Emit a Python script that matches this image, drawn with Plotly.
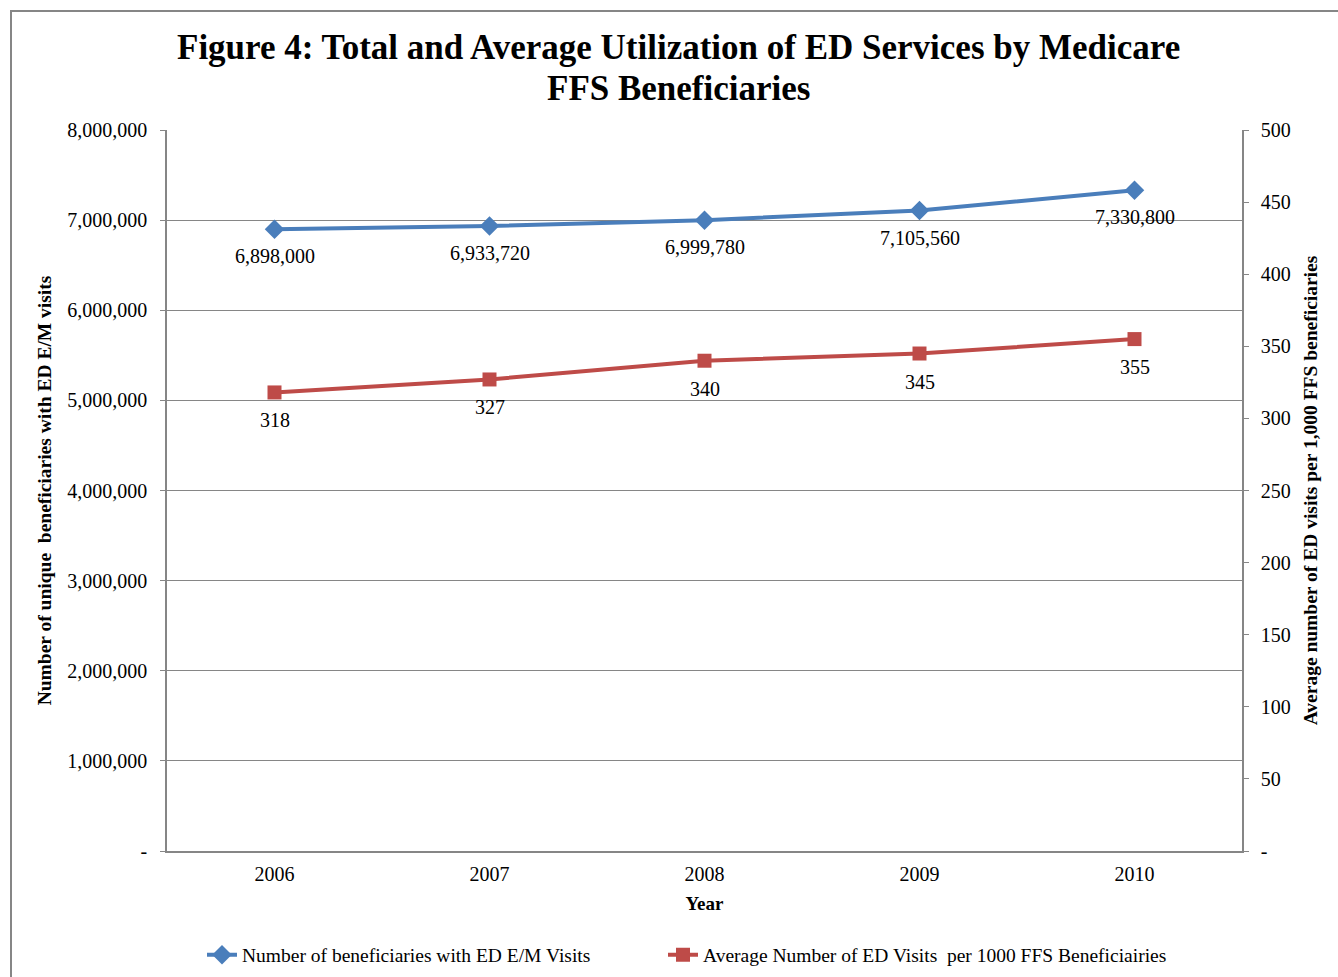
import plotly.graph_objects as go

years = ["2006", "2007", "2008", "2009", "2010"]
beneficiaries = [6898000, 6933720, 6999780, 7105560, 7330800]
avg_visits = [318, 327, 340, 345, 355]
left_ticks = [0, 1000000, 2000000, 3000000, 4000000, 5000000, 6000000, 7000000, 8000000]
left_ticktext = ["-", "1,000,000", "2,000,000", "3,000,000", "4,000,000", "5,000,000", "6,000,000", "7,000,000", "8,000,000"]
right_ticks = [0, 50, 100, 150, 200, 250, 300, 350, 400, 450, 500]
right_ticktext = ["-", "50", "100", "150", "200", "250", "300", "350", "400", "450", "500"]
title_lines = ["Figure 4: Total and Average Utilization of ED Services by Medicare", "FFS Beneficiaries"]

FONT = "Liberation Serif"
BLUE = "#4A7EBB"
RED = "#BE4B48"
GRAY = "#868686"

fig = go.Figure()
fig.add_trace(go.Scatter(
    x=years, y=beneficiaries, mode="lines+markers",
    name="Number of beneficiaries with ED E/M Visits",
    line=dict(color=BLUE, width=4),
    marker=dict(symbol="diamond", size=15, color=BLUE),
    yaxis="y"))
fig.add_trace(go.Scatter(
    x=years, y=avg_visits, mode="lines+markers",
    name="Average Number of ED Visits  per 1000 FFS Beneficiairies",
    line=dict(color=RED, width=4),
    marker=dict(symbol="square", size=14, color=RED),
    yaxis="y2", legend="legend2"))

annotations = []
for i, v in enumerate(beneficiaries):
    annotations.append(dict(x=i, y=v, xref="x", yref="y", text=f"{v:,}",
                            showarrow=False, yshift=-27,
                            font=dict(family=FONT, size=20, color="#000")))
for i, v in enumerate(avg_visits):
    annotations.append(dict(x=i, y=v, xref="x", yref="y2", text=f"{v}",
                            showarrow=False, yshift=-28,
                            font=dict(family=FONT, size=20, color="#000")))
for ypix, line in zip([47, 88], title_lines):
    annotations.append(dict(x=(678 - 167) / 1075, y=(851 - ypix) / 721, xref="paper", yref="paper",
                            text=f"<b>{line}</b>", showarrow=False, xanchor="center", yanchor="middle",
                            font=dict(family=FONT, size=35, color="#000")))

fig.update_layout(
    width=1338, height=977,
    margin=dict(l=167, r=96, t=130, b=126),
    paper_bgcolor="white", plot_bgcolor="white",
    font=dict(family=FONT, size=20, color="#000"),
    showlegend=True,
    xaxis=dict(type="category", range=[-0.5, 4.5], showline=True, linecolor=GRAY, linewidth=1.5,
               showgrid=False, ticks="", tickfont=dict(size=20), ticklabelstandoff=4, automargin=False,
               title=dict(text="<b>Year</b>", font=dict(size=19), standoff=13)),
    yaxis=dict(range=[0, 8000000], tickvals=left_ticks, ticktext=left_ticktext,
               showline=True, linecolor=GRAY, linewidth=1.5, ticks="outside", ticklen=5, tickcolor=GRAY,
               showgrid=True, gridcolor=GRAY, gridwidth=1.3, zeroline=False, automargin=False,
               tickfont=dict(size=20), ticklabelstandoff=9,
               title=dict(text="<b>Number of unique  beneficiaries with ED E/M visits</b>", font=dict(size=19.5), standoff=10)),
    yaxis2=dict(range=[0, 500], tickvals=right_ticks, ticktext=right_ticktext, overlaying="y", side="right",
                showline=True, linecolor=GRAY, linewidth=1.5, ticks="outside", ticklen=5, tickcolor=GRAY,
                showgrid=False, zeroline=False, tickfont=dict(size=20), ticklabelstandoff=8, automargin=False,
                title=dict(text="<b>Average number of ED visits per 1,000 FFS beneficiaries</b>", font=dict(size=19.5), standoff=14)),
    legend=dict(orientation="h", x=(202 - 167) / 1075, xanchor="left", yref="container", y=1 - 955 / 977,
                yanchor="middle", font=dict(family=FONT, size=19.5), bgcolor="rgba(0,0,0,0)"),
    legend2=dict(orientation="h", x=(663 - 167) / 1075, xanchor="left", yref="container", y=1 - 955 / 977,
                 yanchor="middle", font=dict(family=FONT, size=19.5), bgcolor="rgba(0,0,0,0)"),
    annotations=annotations,
    shapes=[dict(type="rect", xref="paper", yref="paper",
                 x0=(11 - 167) / 1075, x1=(1350 - 167) / 1075,
                 y0=(851 - 990) / 721, y1=(851 - 11) / 721,
                 line=dict(color=GRAY, width=2), fillcolor="rgba(0,0,0,0)", layer="below")],
)

fig.write_html("out.html")
